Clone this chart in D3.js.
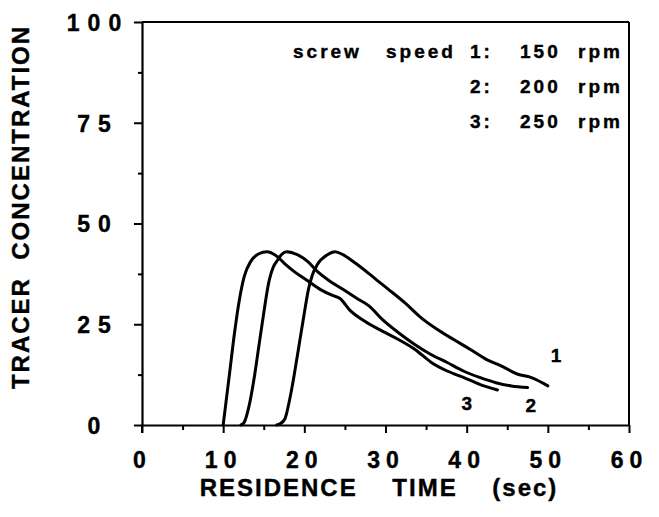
<!DOCTYPE html>
<html>
<head>
<meta charset="utf-8">
<script src="https://cdn.jsdelivr.net/npm/d3@7"></script>
<style>
  body{margin:0;background:#fff;}
  svg{display:block;}
  text{font-family:"Liberation Sans",Arial,Helvetica,sans-serif;font-weight:bold;fill:#000;stroke:#000;stroke-width:0.4px;}
</style>
</head>
<body>
<svg id="display" width="659" height="517"></svg>
<script>
// axis ticks
const x_ticks=[0,10,20,30,40,50,60];
const x_minor=[5,15,25,35,45,55];
const y_ticks=[0,25,50,75,100];
const y_minor=[12.5,37.5,62.5,87.5];

// series ids and screw speeds (rpm)
const series_ids=["1","2","3"];
const screw_speeds=[150,200,250];

// residence time (sec) / tracer concentration
const time_1=[16.6,17.0,17.6,18.2,18.8,19.4,20.0,20.5,21.0,21.6,22.8,23.8,24.8,26.4,28.0,29.4,30.4,32.4,34.4,36.4,38.4,40.4,42.4,44.3,46.3,47.9,50.0];
const conc_1=[0,0.3,1.5,6.4,13.0,20.4,27.8,33.6,37.3,39.8,42.2,43.0,42.2,40.0,37.5,35.2,33.6,30.3,26.6,23.7,21.2,18.8,16.3,14.6,12.6,11.8,9.7];

const time_2=[12.2,12.6,13.2,13.8,14.4,15.0,15.6,16.2,16.6,17.2,17.8,19.2,20.4,21.6,23.2,24.8,26.4,28.0,29.6,31.6,33.6,35.6,37.6,39.6,41.6,43.6,45.5,47.5];
const conc_2=[0,0.7,4.8,11.4,19.6,27.8,35.2,39.3,40.6,42.3,43.0,42.2,40.6,38.1,35.6,33.6,31.5,29.5,26.2,22.9,20.0,17.5,15.5,13.4,11.8,10.5,9.7,9.3];

const time_3=[10.0,10.8,11.4,12.0,12.6,13.4,14.4,15.4,16.4,17.6,18.8,20.4,22.0,23.4,24.4,25.6,27.4,29.6,31.6,33.6,35.6,37.6,39.6,41.6,43.8];
const conc_3=[0,13.0,22.9,31.1,36.9,40.6,42.5,43.0,42.2,40.0,38.0,35.8,33.6,32.2,31.4,28.5,25.8,23.3,21.2,18.8,15.6,13.4,11.8,10.1,8.7];

// where the curve numbers sit (time, concentration)
const label_time=[51.0,47.9,40.0];
const label_conc=[15.6,3.2,3.7];

const display=d3.select("#display");
const x=d3.scaleLinear().domain([0,60]).range([142,629]);
const y=d3.scaleLinear().domain([0,100]).range([425,22]);

// frame: top and right borders
display.append("line")
    .attr("x1",x(0)).attr("y1",y(100))
    .attr("x2",x(60)).attr("y2",y(100))
    .attr("stroke","#000").attr("stroke-width",2);
display.append("line")
    .attr("x1",x(60)).attr("y1",y(0))
    .attr("x2",x(60)).attr("y2",y(100))
    .attr("stroke","#000").attr("stroke-width",2);

// x axis
const x_axis=display.append("g")
    .attr("transform","translate(0,"+y(0)+")")
    .call(d3.axisBottom(x).tickValues(x_ticks).tickSize(8).tickSizeOuter(0).tickFormat(d3.format("d")));
display.append("g")
    .attr("transform","translate(0,"+y(0)+")")
    .call(d3.axisBottom(x).tickValues(x_minor).tickSize(5).tickFormat(""))
    .call(g=>g.select(".domain").remove());
x_axis.select(".domain").attr("stroke-width",2.2);
x_axis.selectAll("text")
    .attr("y",43).attr("dy",0)
    .style("font-size","23px")
    .style("letter-spacing","6px");

// y axis
const y_axis=display.append("g")
    .attr("transform","translate("+x(0)+",0)")
    .call(d3.axisLeft(y).tickValues(y_ticks).tickSize(8).tickSizeOuter(0).tickFormat(d3.format("d")));
display.append("g")
    .attr("transform","translate("+x(0)+",0)")
    .call(d3.axisLeft(y).tickValues(y_minor).tickSize(4).tickFormat(""))
    .call(g=>g.select(".domain").remove());
y_axis.select(".domain").attr("stroke-width",2.2);
y_axis.selectAll("text")
    .attr("x",-44).attr("dy","0.36em")
    .style("text-anchor","middle")
    .style("font-size","23px")
    .style("letter-spacing","8px");
display.selectAll(".tick line").attr("stroke-width",2);
// y axis runs on below the x axis
display.append("line")
    .attr("x1",x(0)).attr("y1",y(0))
    .attr("x2",x(0)).attr("y2",y(0)+8)
    .attr("stroke","#000").attr("stroke-width",2);

// axis titles
display.append("text")
    .attr("x",379).attr("y",496)
    .style("font-size","24px")
    .style("letter-spacing","2px")
    .style("white-space","pre")
    .style("text-anchor","middle")
    .text("RESIDENCE    TIME    (sec)");
display.append("text")
    .attr("transform","translate(29,207) rotate(-90)")
    .style("font-size","24px")
    .style("letter-spacing","2px")
    .style("white-space","pre")
    .style("text-anchor","middle")
    .text("TRACER  CONCENTRATION");

// curves
const line=d3.line()
    .x(d=>x(d[0]))
    .y(d=>y(d[1]))
    .curve(d3.curveMonotoneX);
const series=[
    d3.zip(time_1,conc_1),
    d3.zip(time_2,conc_2),
    d3.zip(time_3,conc_3)
];
for (const points of series){
    display.append("path")
        .attr("d",line(points))
        .attr("fill","none")
        .attr("stroke","#000")
        .attr("stroke-width",3)
        .attr("stroke-linejoin","round")
        .attr("stroke-linecap","round");
}

// curve numbers
series_ids.forEach((id,i)=>{
    display.append("text")
        .attr("x",x(label_time[i]))
        .attr("y",y(label_conc[i]))
        .style("font-size","19px")
        .style("text-anchor","middle")
        .text(id);
});

// legend
const legend_cols=[293,386,470,520,578];
const legend_rows=[58,93,128];
const legend=display.append("g")
    .style("font-size","19px")
    .style("letter-spacing","3px");
legend.append("text").attr("x",legend_cols[0]).attr("y",legend_rows[0]).text("screw");
legend.append("text").attr("x",legend_cols[1]).attr("y",legend_rows[0]).text("speed");
series_ids.forEach((id,i)=>{
    legend.append("text").attr("x",legend_cols[2]).attr("y",legend_rows[i]).text(id+":");
    legend.append("text").attr("x",legend_cols[3]).attr("y",legend_rows[i]).text(screw_speeds[i]);
    legend.append("text").attr("x",legend_cols[4]).attr("y",legend_rows[i]).text("rpm");
});
</script>
</body>
</html>
